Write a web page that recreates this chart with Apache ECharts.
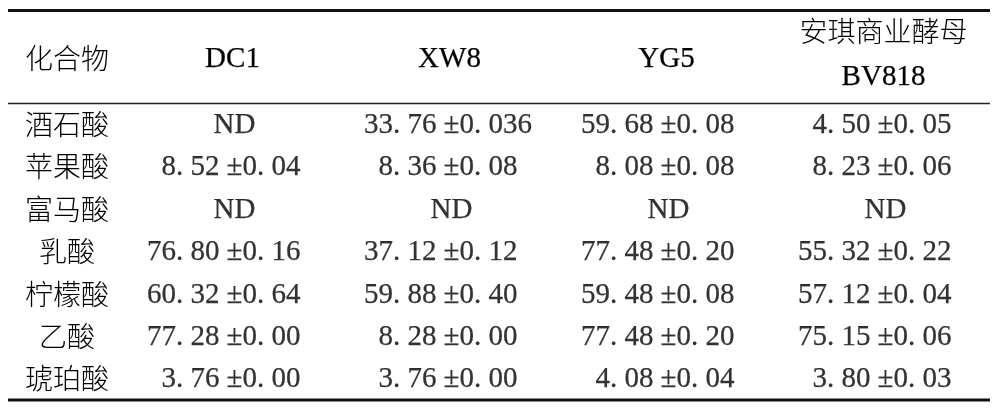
<!DOCTYPE html>
<html>
<head>
<meta charset="utf-8">
<script src="https://cdn.jsdelivr.net/npm/echarts@6/dist/echarts.min.js"></script>
<style>
  html, body { margin: 0; padding: 0; background: #fff; }
  #chart { width: 992px; height: 416px; }
</style>
</head>
<body>
<div id="chart"></div>
<script>
// ---- data ----
var headerFirst = '化合物';
var strains = ['DC1', 'XW8', 'YG5', '安琪商业酵母\nBV818'];
var compounds = ['酒石酸', '苹果酸', '富马酸', '乳酸', '柠檬酸', '乙酸', '琥珀酸'];
// null = ND (not detected)
var meanDC1  = [null, 8.52, null, 76.80, 60.32, 77.28, 3.76];
var sdDC1    = [null, 0.04, null, 0.16, 0.64, 0.00, 0.00];
var meanXW8  = [33.76, 8.36, null, 37.12, 59.88, 8.28, 3.76];
var sdXW8    = [0.036, 0.08, null, 0.12, 0.40, 0.00, 0.00];
var meanYG5  = [59.68, 8.08, null, 77.48, 59.48, 77.48, 4.08];
var sdYG5    = [0.08, 0.08, null, 0.20, 0.08, 0.20, 0.04];
var meanBV   = [4.50, 8.23, null, 55.32, 57.12, 75.15, 3.80];
var sdBV     = [0.05, 0.06, null, 0.22, 0.04, 0.06, 0.03];
var ndText = 'ND';

var means = [meanDC1, meanXW8, meanYG5, meanBV];
var sds = [sdDC1, sdXW8, sdYG5, sdBV];

function decimals(v) {
  var s = String(v);
  var i = s.indexOf('.');
  return i < 0 ? 0 : s.length - i - 1;
}
function fmt(v, minDec) {
  var d = Math.max(minDec, decimals(v));
  return v.toFixed(d).replace('.', '. ');
}

var serif = "'Liberation Serif', 'Times New Roman', 'Noto Sans CJK SC', serif";
var cjk = "'Noto Sans CJK SC', sans-serif";
var ink = '#000';
var FS = 29;
var BW = 0.25;

var headStyle = {
  verticalAlign: 'middle',
  lineHeight: 46,
  fontFamily: serif,
  fontSize: FS,
  color: ink,
  textBorderColor: ink,
  textBorderWidth: BW,
  rich: {
    c: { fontFamily: cjk, fontWeight: 300, fontSize: 28, lineHeight: 46, color: ink, textBorderWidth: 0 },
    l: { fontFamily: serif, fontSize: FS, lineHeight: 46, color: ink, textBorderColor: ink, textBorderWidth: BW }
  }
};
var strainItems = strains.map(function (s) {
  var st = Object.assign({}, headStyle);
  if (s.indexOf('\n') >= 0) st.padding = [0, 0, 10, 0];
  return { value: s, textStyle: st };
});

var meanData = [], sdData = [];
for (var c = 0; c < strains.length; c++) {
  for (var r = 0; r < compounds.length; r++) {
    var m = means[c][r], s = sds[c][r];
    if (m === null) {
      meanData.push({ value: [c, r, ndText], label: { align: 'center', offset: [2, 1] } });
    } else {
      meanData.push({ value: [c, r, fmt(m, 2)] });
      sdData.push({ value: [c, r, '±' + fmt(s, 2)] });
    }
  }
}

var chart = echarts.init(document.getElementById('chart'), null, { renderer: 'canvas' });
chart.setOption({
  animation: false,
  backgroundColor: '#fff',
  grid: { left: 124, right: 0, top: 103, bottom: 16, containLabel: false, outerBoundsMode: 'none' },
  xAxis: {
    type: 'category',
    position: 'top',
    data: strainItems,
    axisLine: { show: false },
    axisTick: { show: false },
    splitLine: { show: false },
    axisLabel: Object.assign({
      interval: 0,
      margin: 44,
      formatter: function (v) {
        var parts = v.split('\n');
        if (parts.length === 1) return v;
        return '{c|' + parts[0] + '}\n{l|' + parts[1] + '}';
      }
    }, headStyle)
  },
  yAxis: {
    type: 'category',
    inverse: true,
    data: compounds,
    axisLine: { show: false },
    axisTick: { show: false },
    splitLine: { show: false },
    axisLabel: {
      interval: 0,
      margin: 57,
      align: 'center',
      fontFamily: cjk,
      fontSize: 28,
      fontWeight: 300,
      color: ink
    }
  },
  graphic: [
    { type: 'text', silent: true, style: { text: headerFirst, x: 67, y: 58, align: 'center', verticalAlign: 'middle', font: '300 28px ' + cjk, fill: ink } },
    { type: 'line', silent: true, shape: { x1: 8, y1: 10.5, x2: 990, y2: 10.5 }, style: { stroke: '#111', lineWidth: 2.8 } },
    { type: 'line', silent: true, shape: { x1: 8, y1: 103.5, x2: 990, y2: 103.5 }, style: { stroke: '#222', lineWidth: 1.3 } },
    { type: 'line', silent: true, shape: { x1: 8, y1: 400, x2: 990, y2: 400 }, style: { stroke: '#111', lineWidth: 2.8 } }
  ],
  series: [
    {
      type: 'scatter',
      silent: true,
      symbolSize: 1,
      itemStyle: { color: 'rgba(0,0,0,0)' },
      data: meanData,
      label: {
        show: true,
        position: 'inside',
        align: 'right',
        verticalAlign: 'middle',
        offset: [-13, 1],
        formatter: function (p) { return p.value[2]; },
        fontFamily: serif,
        fontSize: FS,
        color: ink,
        textBorderColor: ink,
        textBorderWidth: BW
      }
    },
    {
      type: 'scatter',
      silent: true,
      symbolSize: 1,
      itemStyle: { color: 'rgba(0,0,0,0)' },
      data: sdData,
      label: {
        show: true,
        position: 'inside',
        align: 'left',
        verticalAlign: 'middle',
        offset: [-6, 1],
        formatter: function (p) { return p.value[2]; },
        fontFamily: serif,
        fontSize: FS,
        color: ink,
        textBorderColor: ink,
        textBorderWidth: BW
      }
    }
  ]
});
</script>
</body>
</html>
